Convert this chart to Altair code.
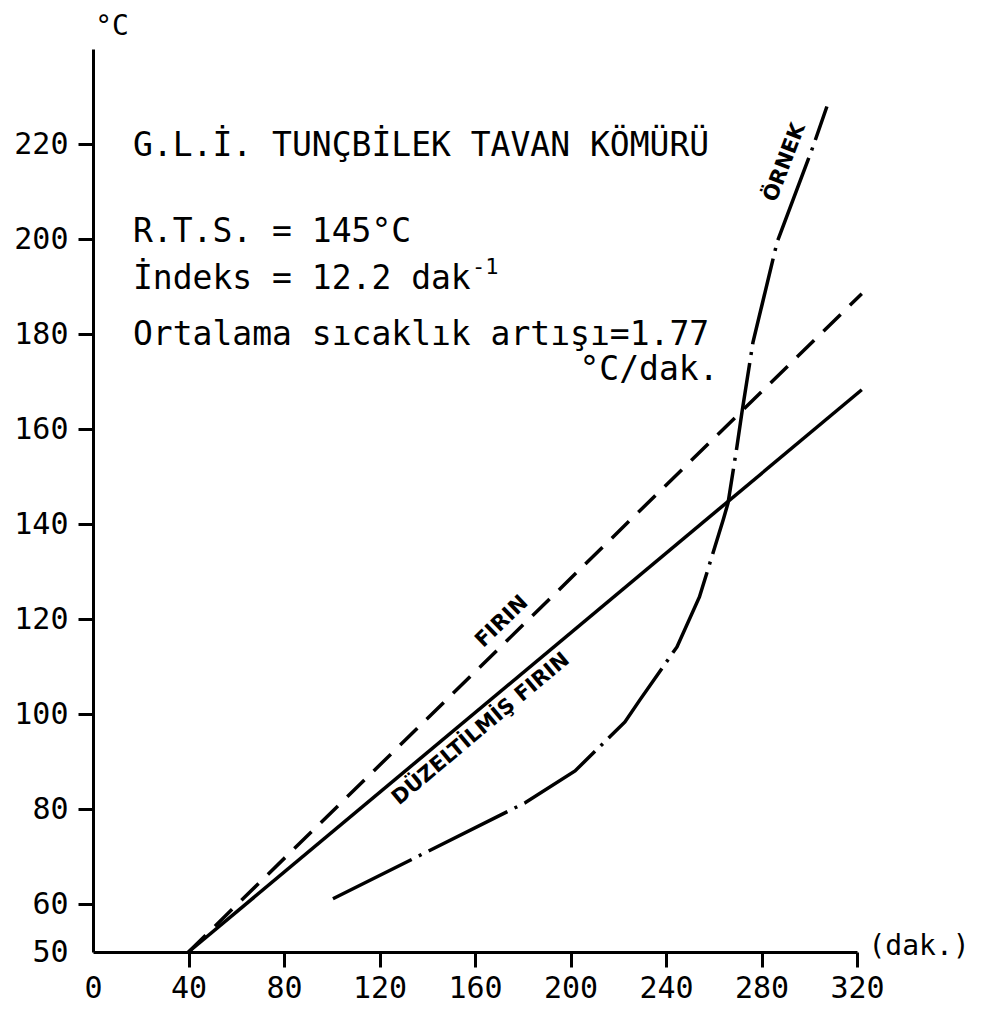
import altair as alt
import pandas as pd

# ---- data ----
firin_x = [40, 322]
firin_y = [50, 188.5]

duz_x = [40, 322]
duz_y = [50, 168.3]

ornek_x = [100.5, 181, 201.9, 222.8, 229, 244.6, 254, 264, 266, 269.7, 271.8, 276.4, 286.5, 301.6, 307.4]
ornek_y = [61.2, 81.4, 88.1, 98.4, 103, 114.2, 124.7, 141, 144.5, 156.3, 163.5, 178.2, 199.3, 219.5, 227.9]

x_ticks = [0, 40, 80, 120, 160, 200, 240, 280, 320]
y_ticks = [50, 60, 80, 100, 120, 140, 160, 180, 200, 220]

# info block (typewriter text), anchored in data units
info_text = ["G.L.İ. TUNÇBİLEK TAVAN KÖMÜRÜ", "R.T.S. = 145°C", "İndeks = 12.2 dak",
             "Ortalama sıcaklık artışı=1.77"]
info_x = [16.75, 16.75, 16.75, 16.75]
info_y = [217.4, 199.3, 189.4, 177.8]

unit_text = ["°C/dak."]
unit_x = [262]
unit_y = [170.4]

sup_text = ["-1"]
sup_x = [158.7]
sup_y = [192.6]

# rotated curve labels
curve_lbl = ["FIRIN", "DÜZELTİLMİŞ FIRIN", "ÖRNEK"]
curve_lbl_x = [171.3, 162.5, 289.8]
curve_lbl_y = [119.5, 96.9, 216.1]
curve_lbl_angle = [316, 320, 291]

axis_lbl = ["°C", "(dak.)"]
axis_lbl_x = [8, 346]
axis_lbl_y = [244.7, 51]

MONO = "DejaVu Sans Mono"

xscale = alt.Scale(domain=[0, 320], nice=False, zero=False)
yscale = alt.Scale(domain=[50, 240], nice=False, zero=False)

xaxis = alt.Axis(values=x_ticks, title=None, grid=False, domainWidth=3, domainColor="black",
                 tickWidth=3, tickSize=15,
                 tickColor={"condition": {"test": "datum.value == 0", "value": "transparent"}, "value": "black"},
                 labelFont=MONO, labelFontSize=30, labelColor="black", labelPadding=6,
                 labelFlush=False, labelOverlap=False, format="d")
yaxis = alt.Axis(values=y_ticks, title=None, grid=False, domainWidth=3, domainColor="black",
                 tickWidth=3, tickSize=15,
                 tickColor={"condition": {"test": "datum.value == 50", "value": "transparent"}, "value": "black"},
                 labelFont=MONO, labelFontSize=30, labelColor="black", labelPadding=10,
                 labelFlush=False, labelOverlap=False, labelBaseline="middle", format="d")

def X(**kw):
    return alt.X("x:Q", scale=xscale, **kw)

def Y(**kw):
    return alt.Y("y:Q", scale=yscale, **kw)

firin_df = pd.DataFrame({"x": firin_x, "y": firin_y})
duz_df = pd.DataFrame({"x": duz_x, "y": duz_y})
ornek_df = pd.DataFrame({"x": ornek_x, "y": ornek_y})

base_line = alt.Chart(duz_df).mark_line(color="black", strokeWidth=3.5).encode(
    x=X(axis=xaxis), y=Y(axis=yaxis))

firin_line = alt.Chart(firin_df).mark_line(color="black", strokeWidth=3.5, strokeDash=[24, 13]).encode(
    x=X(), y=Y())

ornek_line = alt.Chart(ornek_df).mark_line(color="black", strokeWidth=3.5,
                                           strokeDash=[88, 8, 3, 8]).encode(x=X(), y=Y())

info = alt.Chart(pd.DataFrame({"x": info_x, "y": info_y, "t": info_text})).mark_text(
    font=MONO, fontSize=33, align="left", baseline="alphabetic", color="black").encode(
    x=X(), y=Y(), text="t:N")

unit = alt.Chart(pd.DataFrame({"x": unit_x, "y": unit_y, "t": unit_text})).mark_text(
    font=MONO, fontSize=33, align="right", baseline="alphabetic", color="black").encode(
    x=X(), y=Y(), text="t:N")

sup = alt.Chart(pd.DataFrame({"x": sup_x, "y": sup_y, "t": sup_text})).mark_text(
    font=MONO, fontSize=22, align="left", baseline="alphabetic", color="black").encode(
    x=X(), y=Y(), text="t:N")

clbl = alt.Chart(pd.DataFrame({"x": curve_lbl_x, "y": curve_lbl_y, "t": curve_lbl,
                               "a": curve_lbl_angle})).mark_text(
    font="DejaVu Sans", fontWeight="bold", fontSize=21, align="center", baseline="middle",
    color="black").encode(x=X(), y=Y(), text="t:N", angle=alt.Angle("a:Q", scale=None))

albl = alt.Chart(pd.DataFrame({"x": axis_lbl_x, "y": axis_lbl_y, "t": axis_lbl})).mark_text(
    font=MONO, fontSize=28, align="center", baseline="middle", color="black").encode(
    x=X(), y=Y(), text="t:N")

chart = alt.layer(base_line, firin_line, ornek_line, info, unit, sup, clbl, albl).properties(
    width=764, height=903,
    autosize=alt.AutoSizeParams(type="none"),
    padding={"left": 93, "top": 49, "right": 127, "bottom": 61},
    background="white",
).configure_view(stroke=None)

chart.save("out.html", embed_options={"renderer": "svg", "actions": False})
